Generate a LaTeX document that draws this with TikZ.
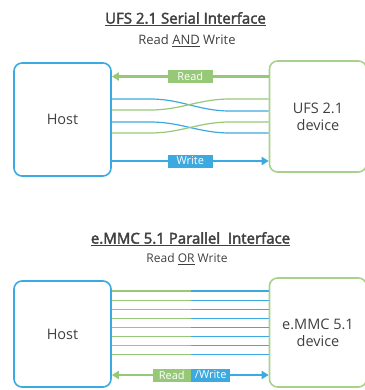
\documentclass[tikz,border=0pt]{standalone}
\usepackage{fontspec}
\setmainfont{Open Sans}
\newfontfamily\titlefont[FakeBold=2.5]{Open Sans}
\usetikzlibrary{arrows.meta,positioning}
\definecolor{ufsblue}{HTML}{3DA9E1}
\definecolor{ufsgreen}{HTML}{96C878}
\definecolor{boxgreen}{HTML}{A9D18E}
\definecolor{txtgray}{HTML}{404040}
\tikzset{
  hostbox/.style={draw=ufsblue, line width=1.6pt, rounded corners=8pt, minimum width=97pt, font=\fontsize{14.5}{17}\selectfont, text=txtgray, align=center},
  devbox/.style={hostbox, draw=boxgreen},
  wire/.style={line width=1.2pt},
  bigarrow/.style={line width=2.6pt, -{Triangle[length=7pt,width=8pt]}},
  lbl/.style={text=white, font=\fontsize{11}{12}\selectfont, inner sep=0pt, minimum height=13pt},
  titletext/.style={font=\titlefont\fontsize{15}{16}\selectfont, text=txtgray},
  subtext/.style={font=\fontsize{13}{15}\selectfont, text=txtgray}
}
\begin{document}
\begin{tikzpicture}[x=1pt, y=-1pt]
		\useasboundingbox (0,0) rectangle (364,390);

		% Serial interface, top half
		\node[titletext] (ttl1) at (185.5,19) {\underline{UFS 2.1 Serial Interface}};
		\node[subtext] (sub1) at (187,41) {Read \underline{AND} Write};

		\node[hostbox, minimum height=113pt] (host1) at (62.5,119.5) {Host};
		\node[devbox, minimum height=111pt] (ufs) at (318,116.5) {UFS 2.1\\device};

		% Read and write lanes
		\draw[bigarrow, ufsgreen] (ufs.west |- 0,76.5) -- (host1.east |- 0,76.5)
		node[midway, lbl, fill=ufsgreen, minimum width=45pt] (rd1) {Read};
		\draw[bigarrow, ufsblue] (host1.east |- 0,161) -- (ufs.west |- 0,161)
		node[midway, lbl, fill=ufsblue, minimum width=45pt] (wr1) {Write};

		% Draw the crossing pairs
		\draw[wire, ufsblue] (host1.east |- 0,99) -- (150,99) to[out=0, in=180] (230,111) -- (ufs.west |- 0,111);
		\draw[wire, ufsgreen] (host1.east |- 0,110) -- (150,110) to[out=0, in=180] (230,99) -- (ufs.west |- 0,99);
		\draw[wire, ufsblue] (host1.east |- 0,122) -- (150,122) to[out=0, in=180] (230,133) -- (ufs.west |- 0,133);
		\draw[wire, ufsgreen] (host1.east |- 0,133) -- (150,133) to[out=0, in=180] (230,122) -- (ufs.west |- 0,122);

		% Parallel interface, bottom half
		\node[titletext] (ttl2) at (190.5,239) {\underline{e.MMC 5.1 Parallel\ \ Interface}};
		\node[subtext, font=\fontsize{12}{14}\selectfont] (sub2) at (187,259) {Read \underline{OR} Write};

		\node[hostbox, minimum height=106pt] (host2) at (62.5,334) {Host};
		\node[devbox, minimum height=109pt] (emmc) at (318,332.5) {e.MMC 5.1\\device};

		% Draw the eight data lines
		\foreach \i in {0,...,7} {
			\pgfmathsetmacro\yy{291+9.1*\i}
			\draw[wire, ufsgreen] (host2.east |- 0,\yy) -- (191,\yy);
			\draw[wire, ufsblue] (191,\yy) -- (emmc.west |- 0,\yy);
		}

		\coordinate (split) at (191,375);
		\draw[bigarrow, ufsgreen] (split) -- (host2.east |- split);
		\draw[bigarrow, ufsblue] (split) -- (emmc.west |- split);
		\node[lbl, fill=ufsgreen, minimum width=38pt, anchor=east] (rd2) at (split) {Read};
		\node[lbl, fill=ufsblue, minimum width=39pt, right=0pt of rd2] (wr2) {/Write};

	\end{tikzpicture}
\end{document}
